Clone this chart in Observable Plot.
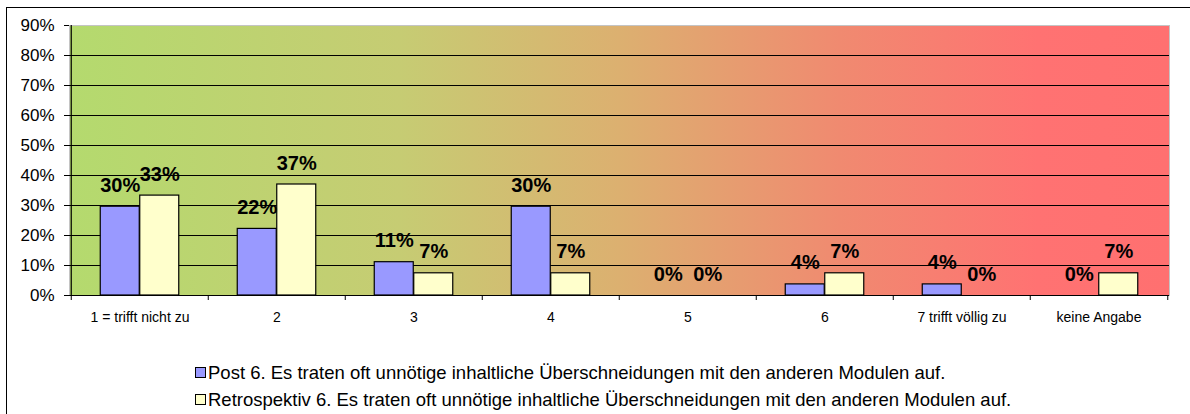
<!DOCTYPE html>
<html><head><meta charset="utf-8">
<script src="https://cdn.jsdelivr.net/npm/d3@7"></script>
<script src="https://cdn.jsdelivr.net/npm/@observablehq/plot@0.6"></script>
<style>
body{margin:0;background:#fff;font-family:"Liberation Sans",Arial,sans-serif;}
#wrap{position:relative;width:1190px;height:414px;overflow:hidden;}
#border{position:absolute;left:6px;top:7px;width:1300px;height:500px;border-left:1px solid #000;border-top:1px solid #000;}
#chart{position:absolute;left:0;top:0;}
#legend{position:absolute;left:195px;top:359px;font-size:18.5px;color:#000;}
.row{display:flex;align-items:center;height:27px;}
.sw{width:9px;height:9px;border:1px solid #000;margin-right:2px;}
</style></head>
<body>
<div id="wrap">
  <div id="border"></div>
  <div id="chart"></div>
  <div id="legend"></div>
</div>
<script>
const categories = ["1 = trifft nicht zu","2","3","4","5","6","7 trifft völlig zu","keine Angabe"];
const seriesNames = [
  "Post 6. Es traten oft unnötige inhaltliche Überschneidungen mit den anderen Modulen auf.",
  "Retrospektiv 6. Es traten oft unnötige inhaltliche Überschneidungen mit den anderen Modulen auf."
];
const seriesColors = ["#9999FF", "#FFFFCC"];
const postValues = [0.296, 0.222, 0.111, 0.296, 0, 0.037, 0.037, 0];
const retroValues = [0.333, 0.370, 0.074, 0.074, 0, 0.074, 0, 0.074];
const yTicks = [0, 0.1, 0.2, 0.3, 0.4, 0.5, 0.6, 0.7, 0.8, 0.9];
const gridTicks = [0.1, 0.2, 0.3, 0.4, 0.5, 0.6, 0.7, 0.8];
const gradientStops = [
  [0, "#B4DA6E"], [0.3, "#C6CC73"], [0.5, "#DCB070"], [0.7, "#F08A70"], [0.88, "#FF7272"], [1, "#FF7070"]
];

const postData = categories.map((c, i) => ({cat: c, value: postValues[i]}));
const retroData = categories.map((c, i) => ({cat: c, value: retroValues[i]}));
const pct = d3.format(".0%");

const W = 1190, mL = 69, mR = 21;
const half = (W - mL - mR) / categories.length / 2;   // half band width
const barW = 39.5;
const pad = half - barW;

const tickExt = 5 / (270 / 0.9);

const font = "Liberation Sans, Arial, sans-serif";
const plot = Plot.plot({
  width: W, height: 340,
  marginLeft: mL, marginRight: mR, marginTop: 25, marginBottom: 45,
  style: {fontFamily: font, background: "transparent", overflow: "visible", color: "#000"},
  x: {domain: categories, padding: 0, label: null},
  y: {domain: [0, 0.9], label: null},
  marks: [
    Plot.frame({fill: "url(#bg)", stroke: "#c4c4c4"}),
    Plot.ruleY(gridTicks, {stroke: "#000", strokeWidth: 1}),
    Plot.barY(postData, {x: "cat", y: "value", fill: seriesColors[0], stroke: "#000", strokeWidth: 1.2, insetLeft: pad, insetRight: half}),
    Plot.barY(retroData, {x: "cat", y: "value", fill: seriesColors[1], stroke: "#000", strokeWidth: 1.2, insetLeft: half, insetRight: pad}),
    Plot.text(postData, {x: "cat", y: "value", text: d => pct(d.value), dx: -barW / 2, dy: -15, lineAnchor: "bottom", fontSize: 20, fontWeight: "bold", fill: "#000"}),
    Plot.text(retroData, {x: "cat", y: "value", text: d => pct(d.value), dx: barW / 2, dy: -15, lineAnchor: "bottom", fontSize: 20, fontWeight: "bold", fill: "#000"}),
    Plot.axisY({ticks: yTicks, tickFormat: pct, tickSize: 5, tickPadding: 10, fontSize: 17, stroke: "#000"}),
    Plot.axisX({tickSize: 0, tickPadding: 17, fontSize: 14}),
    Plot.ruleY([0], {stroke: "#000", strokeWidth: 1.2}),
    Plot.ruleX([categories[0]], {dx: -half, y1: 0, y2: 0.9, stroke: "#000", strokeWidth: 1.2}),
    Plot.ruleX(categories, {dx: -half, y1: 0, y2: -tickExt, stroke: "#000"}),
    Plot.ruleX([categories[categories.length - 1]], {dx: half, y1: 0, y2: -tickExt, stroke: "#000"})
  ]
});

const defs = d3.select(plot).insert("defs", ":first-child");
const lg = defs.append("linearGradient").attr("id", "bg")
  .attr("x1", 0).attr("x2", 1).attr("y1", 0).attr("y2", 0);
gradientStops.forEach(([o, c]) => lg.append("stop").attr("offset", o).attr("stop-color", c));

document.getElementById("chart").appendChild(plot);

const legend = document.getElementById("legend");
seriesNames.forEach((name, i) => {
  const row = document.createElement("div");
  row.className = "row";
  const sw = document.createElement("div");
  sw.className = "sw";
  sw.style.background = seriesColors[i];
  const t = document.createElement("span");
  t.textContent = name;
  row.appendChild(sw); row.appendChild(t);
  legend.appendChild(row);
});
</script>
</body></html>
